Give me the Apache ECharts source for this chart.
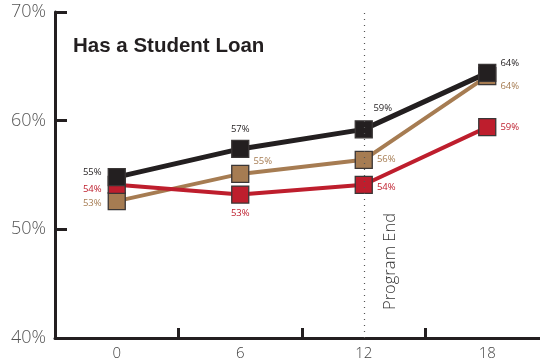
<!DOCTYPE html>
<html>
<head>
<meta charset="utf-8">
<script src="https://cdn.jsdelivr.net/npm/echarts@6/dist/echarts.min.js"></script>
<style>
  html, body { margin: 0; padding: 0; background: #fff; }
  #chart { width: 540px; height: 361px; }
</style>
</head>
<body>
<div id="chart"></div>
<script>
// Months since program start
const months = ['0', '6', '12', '18'];
// Share with a student loan (%)
const seriesBlack = [54.8, 57.4, 59.2, 64.4];
const seriesTan = [52.6, 55.1, 56.4, 64.1];
const seriesRed = [54.1, 53.2, 54.1, 59.4];
const yTicks = [40, 50, 60, 70];
const programEnd = '12';
const titleText = 'Has a Student Loan';
const programEndText = 'Program End';

const FONT = '"Open Sans", Lato, "DejaVu Sans", sans-serif';
const AXIS = '#231f20';

function pct(p) { return Math.round(p.value) + '%'; }

function labelsFor(color, positions) {
  return positions.map(function (pos) {
    return Object.assign({
      show: true, fontSize: 9.5, color: color, fontFamily: FONT, formatter: pct
    }, pos);
  });
}

function makeSeries(name, data, color, width, labelPos) {
  const labels = labelsFor(color, labelPos);
  return {
    name: name,
    type: 'line',
    data: data.map(function (v, i) { return { value: v, label: labels[i] }; }),
    symbol: 'rect',
    symbolSize: 17,
    lineStyle: { color: color, width: width },
    itemStyle: { color: color, borderColor: '#3a3636', borderWidth: 1.3 },
    emphasis: { disabled: true },
    animation: false
  };
}

const chart = echarts.init(document.getElementById('chart'), null, { renderer: 'canvas' });

chart.setOption({
  animation: false,
  title: {
    text: titleText,
    left: 73, top: 36,
    padding: 0,
    textStyle: { fontFamily: '"Liberation Sans", Arial, sans-serif', fontWeight: 'bold', fontSize: 20.5, color: '#231f20' }
  },
  // the last band runs a little past the right edge of the canvas
  grid: { left: 55, top: 12, height: 326, width: 494, outerBoundsMode: 'none', containLabel: false },
  xAxis: {
    type: 'category',
    data: months,
    boundaryGap: true,
    axisLine: { lineStyle: { color: AXIS, width: 3 } },
    axisTick: { show: true, inside: true, length: 10, lineStyle: { color: AXIS, width: 3 } },
    axisLabel: { fontFamily: FONT, fontWeight: 300, fontSize: 15, color: '#444', margin: 8 },
    splitLine: { show: false }
  },
  yAxis: {
    type: 'value',
    min: yTicks[0], max: yTicks[yTicks.length - 1], interval: 10,
    axisLine: { show: true, lineStyle: { color: AXIS, width: 3 } },
    axisTick: { show: true, inside: true, length: 12, lineStyle: { color: AXIS, width: 3 } },
    axisLabel: { fontFamily: FONT, fontWeight: 300, fontSize: 18, color: '#555', margin: 9, formatter: '{value}%' },
    splitLine: { show: false }
  },
  series: [
    makeSeries('tan', seriesTan, '#a67c52', 4, [
      { position: 'left', distance: 6, offset: [0, 2] },
      { position: 'right', distance: 4, offset: [0, -13] },
      { position: 'right', distance: 4 },
      { position: 'right', distance: 4, offset: [0, 10] }
    ]),
    makeSeries('red', seriesRed, '#be1e2d', 4, [
      { position: 'left', distance: 6, offset: [0, 5] },
      { position: 'bottom', distance: 5 },
      { position: 'right', distance: 4, offset: [0, 3] },
      { position: 'right', distance: 4 }
    ]),
    Object.assign(makeSeries('black', seriesBlack, '#231f20', 5, [
      { position: 'left', distance: 6, offset: [0, -5] },
      { position: 'top', distance: 5 },
      { position: 'top', distance: 7, offset: [19, 0] },
      { position: 'right', distance: 4, offset: [0, -10] }
    ]), {
      markLine: {
        silent: true,
        symbol: 'none',
        animation: false,
        lineStyle: { color: '#555', type: [1, 5], width: 1.2 },
        label: {
          show: true,
          formatter: programEndText,
          position: 'insideStartBottom',
          distance: [28, 18],
          fontFamily: FONT,
          fontWeight: 300,
          fontSize: 16.5,
          color: '#333'
        },
        data: [{ xAxis: programEnd }]
      }
    })
  ]
});
</script>
</body>
</html>
